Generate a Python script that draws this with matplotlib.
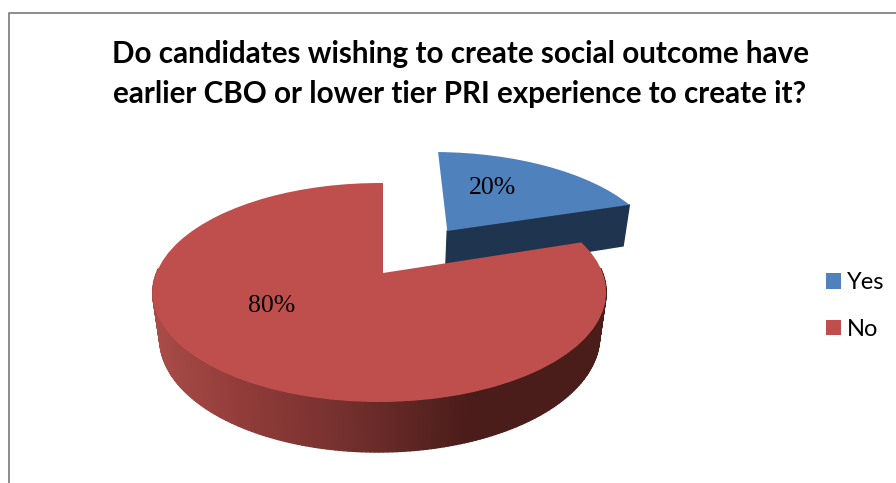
# 3D look pie chart: candidates with earlier CBO / PRI experience
import matplotlib
matplotlib.use("Agg")
import matplotlib.pyplot as plt
import numpy as np
from matplotlib.transforms import Transform

# data
labels = ["Yes", "No"]
shares = [20, 80]
explode = [0.53, 0]
title = ("Do candidates wishing to create social outcome have\n"
         "earlier CBO or lower tier PRI experience to create it?")

# colours
top_colors = ["#4f81bd", "#be4f4c"]
blue_wall = "#1f344e"
red_wall_x = [153, 230, 340, 470, 606]
red_wall_rgb = [(0.66, 0.30, 0.28), (0.58, 0.24, 0.23), (0.46, 0.19, 0.18),
                (0.29, 0.11, 0.10), (0.29, 0.11, 0.10)]

# camera, in pixels
CX, CY = 383.0, 273.0
FX, FY = 223.0, 106.0
K_V, K_U, K_Z = 0.178, 0.0155, 0.03
DEPTH = 46.5


def project(u, v, z=0.0):
    """Disc coordinates to screen pixels with a simple perspective."""
    w = 1 + K_V * v + K_U * u + K_Z * z
    return CX + FX * u / w, CY + (z * DEPTH - FY * v) / w


class Tilt(Transform):
    """Lays the flat pie down on the table."""
    input_dims = 2
    output_dims = 2
    is_separable = False
    has_inverse = False

    def transform_non_affine(self, values):
        x, y = project(values[:, 0], values[:, 1])
        return np.column_stack([x, y])


def edge_point(u, v):
    """Top and bottom screen position of one rim point."""
    return (*project(u, v), *project(u, v, 1.0))


def wall(ax, p0, p1, color, order):
    """Fills the wall between two rim points."""
    xs = [p0[0], p1[0], p1[2], p0[2]]
    ys = [p0[1], p1[1], p1[3], p0[3]]
    ax.fill(xs, ys, color=color, lw=1.0, zorder=order)


fig = plt.figure(figsize=(8.96, 4.83), dpi=100)
ax = fig.add_axes([0, 0, 1, 1])

wedges, _ = ax.pie(shares, colors=top_colors, explode=explode, startangle=90,
                   counterclock=False, radius=1.0)
tilt = Tilt() + ax.transData
for wedge, order in zip(wedges, [2, 3]):
    wedge.set_transform(tilt)
    wedge.set_zorder(order)
    wedge.set_linewidth(0)

# blue cut face
blue = wedges[0]
blue.set_radius(1.01)
bu, bv = blue.center
a = np.radians(blue.theta1)
wall(ax, edge_point(bu, bv),
     edge_point(bu + blue.r * np.cos(a), bv + blue.r * np.sin(a)), blue_wall, 1)

# red rim, shaded left to right
red = wedges[1]
angles = np.radians(np.linspace(red.theta1, red.theta2, 300))
angles = angles[np.sin(angles) < 0.05]
for t0, t1 in zip(angles[:-1], angles[1:]):
    p0 = edge_point(np.cos(t0), np.sin(t0))
    p1 = edge_point(np.cos(t1), np.sin(t1))
    rgb = [np.interp(p0[0], red_wall_x, [c[i] for c in red_wall_rgb]) for i in range(3)]
    wall(ax, p0, p1, rgb, 2.5)

# frame of the chart area
ax.plot([9, 9, 896], [483, 13, 13], color="#8c8c8c", lw=1.4, zorder=1, clip_on=False)

ax.text(460, 74, title, ha="center", va="center", fontsize=21.3, fontweight="bold",
        family="Lato", linespacing=1.48, color="black")

# percentages
ax.text(493, 187.5, f"{shares[0]}%", ha="center", va="center", fontsize=18.5,
        family="Liberation Serif", zorder=5)
ax.text(272, 306.5, f"{shares[1]}%", ha="center", va="center", fontsize=18.5,
        family="Liberation Serif", zorder=5)

legend = ax.legend(wedges, labels, loc="upper left", bbox_to_anchor=(826, 272),
                   bbox_transform=ax.transData, frameon=False,
                   prop={"family": "Lato", "size": 17}, handlelength=0.64,
                   handleheight=0.64, handletextpad=0.25, labelspacing=1.1,
                   borderpad=0, borderaxespad=0)

ax.set_aspect("auto")
ax.set_xlim(0, 896)
ax.set_ylim(483, 0)
ax.axis("off")

fig.savefig("out.png", dpi=100)
